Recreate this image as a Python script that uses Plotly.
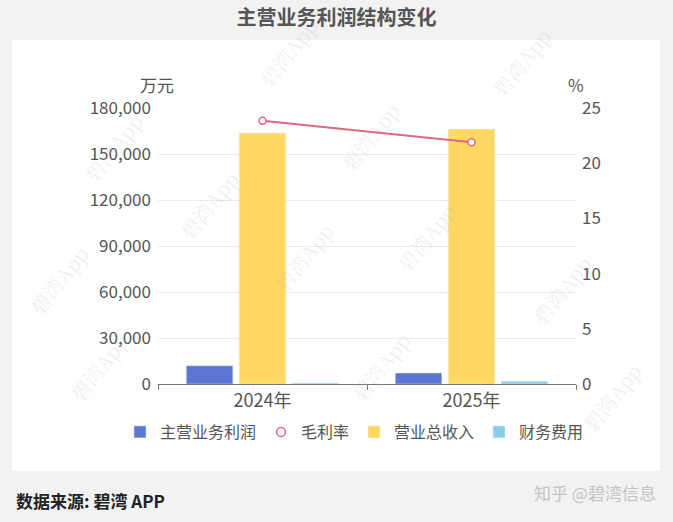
import plotly.graph_objects as go

categories = ["2024年", "2025年"]
main_profit = [11900, 7200]
gross_margin = [23.85, 21.9]
total_revenue = [163700, 166300]
finance_cost = [600, 1800]

FONT = "Noto Sans CJK SC, Noto Sans, sans-serif"
W, H = 673, 522
L, R, T, B = 158, 576, 108, 384
PW, PH = R - L, B - T

def px(x):
    return (x - L) / PW

def py(y):
    return (B - y) / PH

fig = go.Figure()
fig.add_trace(go.Bar(name="主营业务利润", x=categories, y=main_profit,
                     marker_color="#5b77d3", yaxis="y"))
fig.add_trace(go.Scatter(name="毛利率", x=categories, y=gross_margin, yaxis="y2",
                         mode="lines+markers", showlegend=False,
                         line=dict(color="#dc6a83", width=2),
                         marker=dict(symbol="circle", size=7, color="white",
                                     line=dict(color="#dc6a83", width=1.5))))
fig.add_trace(go.Scatter(name="毛利率", x=[None], y=[None], yaxis="y2",
                         mode="markers",
                         marker=dict(symbol="circle", size=9, color="white",
                                     line=dict(color="#dc6a83", width=1.5))))
fig.add_trace(go.Bar(name="营业总收入", x=categories, y=total_revenue,
                     marker_color="#ffd862", yaxis="y"))
fig.add_trace(go.Bar(name="财务费用", x=categories, y=finance_cost,
                     marker_color="#86d0ea", yaxis="y"))

shapes = [dict(type="rect", xref="paper", yref="paper",
               x0=px(12), x1=px(660), y0=py(471), y1=py(40),
               fillcolor="white", line=dict(width=0), layer="below")]

annotations = [
    dict(text="万元", x=px(176), y=py(84), xref="paper", yref="paper",
         xanchor="right", yanchor="middle", showarrow=False,
         font=dict(size=17, color="#555", family=FONT)),
    dict(text="%", x=px(576), y=py(84), xref="paper", yref="paper",
         xanchor="center", yanchor="middle", showarrow=False,
         font=dict(size=17, color="#555", family=FONT)),
    dict(text="<b>数据来源: 碧湾 APP</b>", x=px(14), y=py(500), xref="paper", yref="paper",
         xanchor="left", yanchor="middle", showarrow=False,
         font=dict(size=17, color="#222", family=FONT)),
    dict(text="知乎 @碧湾信息", x=px(658), y=py(492), xref="paper", yref="paper",
         xanchor="right", yanchor="middle", showarrow=False,
         font=dict(size=17, color="#c4c4c4", family=FONT)),
]

wm_pos = [(75, 105), (170, 205), (265, 300), (370, 95), (465, 195), (560, 20),
          (600, 290), (60, 410), (380, 410), (650, 440), (20, 280), (250, 10)]
for (x, y) in wm_pos:
    annotations.append(dict(text="碧湾App", x=px(x), y=py(y), xref="paper", yref="paper",
                            showarrow=False, textangle=-52,
                            font=dict(size=20, color="rgba(170,170,170,0.2)",
                                      family="Noto Serif CJK SC, serif")))

fig.update_layout(
    width=W, height=H,
    margin=dict(l=L, r=W - R, t=T, b=H - B),
    paper_bgcolor="#f2f2f2", plot_bgcolor="white",
    font=dict(family=FONT, color="#555"),
    title=dict(text="<b>主营业务利润结构变化</b>", x=0.5, xanchor="center",
               xref="container", yref="container", y=1 - 18 / H, yanchor="middle",
               font=dict(size=20, color="#555", family=FONT)),
    barmode="group", bargap=0.24, bargroupgap=0.12,
    xaxis=dict(showline=True, linecolor="#777", linewidth=1, ticks="outside",
               tickson="boundaries", ticklen=5, tickcolor="#777",
               tickfont=dict(size=18, color="#555"), showgrid=False),
    yaxis=dict(range=[0, 180000], dtick=30000, tickformat=",", showgrid=True,
               gridcolor="#ebebeb", zeroline=False, ticklabelstandoff=6,
               tickfont=dict(size=17, color="#555")),
    yaxis2=dict(range=[0, 25], dtick=5, overlaying="y", side="right",
                showgrid=False, zeroline=False, ticklabelstandoff=5,
                tickfont=dict(size=17, color="#555")),
    legend=dict(orientation="h", x=px(120), y=py(432), xanchor="left",
                yanchor="middle", font=dict(size=16, color="#555"),
                itemwidth=30, tracegroupgap=0, bgcolor="rgba(0,0,0,0)"),
    shapes=shapes, annotations=annotations,
)

fig.write_html("out.html", config={"displayModeBar": False},
               post_script="document.body.style.margin='0';document.body.style.padding='0';")
